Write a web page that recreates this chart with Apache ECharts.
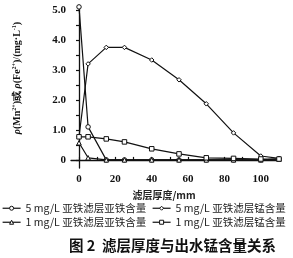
<!DOCTYPE html>
<html><head><meta charset="utf-8">
<script src="https://cdn.jsdelivr.net/npm/echarts@6/dist/echarts.min.js"></script>
<style>html,body{margin:0;padding:0;background:#fff}#c{width:293px;height:258px}</style>
</head><body><div id="c"></div>
<script>
const thickness = [0, 5, 15, 25, 40, 55, 70, 85, 100, 110];
const fe5 = [5.1, 1.1, 0, 0, 0, 0, 0, 0, 0, 0.03];
const mn5 = [0.77, 3.2, 3.75, 3.75, 3.33, 2.67, 1.87, 0.9, 0.13, 0.05];
const fe1 = [0.57, 0.07, 0, 0, 0, 0, 0, 0, 0, 0.03];
const mn1 = [0.77, 0.77, 0.7, 0.6, 0.37, 0.2, 0.07, 0.05, 0.03, 0.03];
const seriesNames = ['5 mg/L 亚铁滤层亚铁含量', '5 mg/L 亚铁滤层锰含量', '1 mg/L 亚铁滤层亚铁含量', '1 mg/L 亚铁滤层锰含量'];
const xLabels = [0, 20, 40, 60, 80, 100];
const xTicks = [0, 10, 20, 30, 40, 50, 60, 70, 80, 90, 100, 110];
const yLabels = [0, 1, 2, 3, 4, 5];
const yTicks = [0, 0.5, 1, 1.5, 2, 2.5, 3, 3.5, 4, 4.5, 5];
const xName = '滤层厚度/mm';
const titleText = '图 2  滤层厚度与出水锰含量关系';

const serif = 'Liberation Serif';
const cjk = 'Noto Sans CJK SC';
const symbols = ['circle', 'diamond', 'triangle', 'rect'];
const sets = [fe5, mn5, fe1, mn1];
const legendPos = [[0, 201], [150, 201], [0, 215], [150, 215]];

const chart = echarts.init(document.getElementById('c'), null, {renderer: 'canvas'});
const legendText = {fontFamily: cjk, fontSize: 10.5, color: '#222'};
chart.setOption({
  animation: false,
  backgroundColor: '#fff',
  grid: {left: 71, right: 14, top: 6, bottom: 90, containLabel: false},
  xAxis: {
    type: 'value', min: -4.4, max: 110,
    name: xName, nameLocation: 'middle', nameGap: 22,
    nameTextStyle: {fontFamily: cjk, fontSize: 10, color: '#222', fontWeight: 'bold', padding: [0, 22, 0, 0]},
    axisLine: {lineStyle: {color: '#111', width: 1.3}},
    axisTick: {inside: true, length: 3, customValues: xTicks, lineStyle: {color: '#111', width: 1.2}},
    axisLabel: {customValues: xLabels, fontFamily: serif, fontWeight: 'bold', fontSize: 11, color: '#111', margin: 6},
    splitLine: {show: false}
  },
  yAxis: {
    type: 'value', min: -0.27, max: 5.13,
    axisLine: {lineStyle: {color: '#111', width: 1.3}},
    axisTick: {inside: false, length: 3, customValues: yTicks, lineStyle: {color: '#111', width: 1.2}},
    axisLabel: {customValues: yLabels, fontFamily: serif, fontWeight: 'bold', fontSize: 11, color: '#111', margin: 5,
      formatter: v => v === 0 ? '0' : v.toFixed(1)},
    splitLine: {show: false}
  },
  legend: seriesNames.map((n, i) => ({
    data: [n], left: legendPos[i][0], top: legendPos[i][1], padding: [2, 2, 2, 2],
    itemWidth: 18, itemHeight: 5, itemGap: 2, textStyle: legendText,
    itemStyle: {color: '#fff', borderColor: '#111', borderWidth: 1},
    lineStyle: {color: '#111', width: 1.2}
  })),
  title: {text: titleText, left: 64, top: 233,
    textStyle: {fontFamily: cjk, fontWeight: 'bold', fontSize: 14.5, color: '#111'}},
  graphic: [{
    type: 'text', x: 17, y: 78, rotation: Math.PI / 2,
    style: {
      text: '{i|ρ}(Mn{s|2+})或 {i|ρ}(Fe{s|2+})/(mg·L{s|-1})',
      fontFamily: serif, fontSize: 10, fontWeight: 'bold', fill: '#111',
      align: 'center', verticalAlign: 'middle',
      rich: {
        i: {fontFamily: serif, fontStyle: 'italic', fontWeight: 'bold', fontSize: 10},
        s: {fontFamily: serif, fontSize: 6, fontWeight: 'bold', verticalAlign: 'top', padding: [0, 0, 5, 0]}
      }
    }
  }],
  series: sets.map((arr, i) => ({
    name: seriesNames[i], type: 'line',
    data: thickness.map((t, j) => [t, arr[j]]),
    symbol: symbols[i], symbolSize: 4.5, showAllSymbol: true,
    lineStyle: {color: '#111', width: 1.2},
    itemStyle: {color: '#fff', borderColor: '#111', borderWidth: 1},
    z: 2 + i
  }))
});
</script></body></html>
